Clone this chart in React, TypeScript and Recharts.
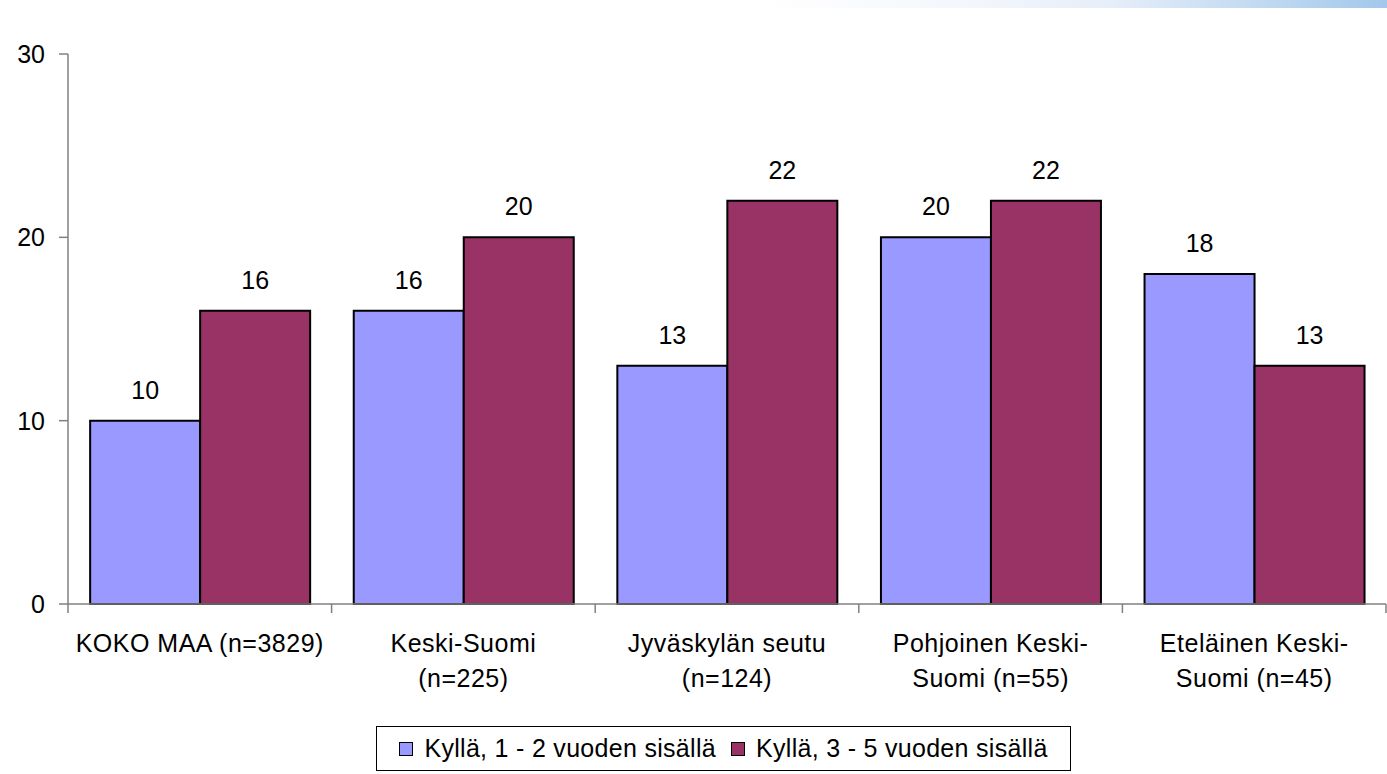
import React from "react";
import { BarChart, Bar, XAxis, YAxis, LabelList, Legend } from "recharts";

// ── Data ──────────────────────────────────────────────────────────────────────

const categories = [
  "KOKO MAA (n=3829)",
  "Keski-Suomi (n=225)",
  "Jyväskylän seutu (n=124)",
  "Pohjoinen Keski-Suomi (n=55)",
  "Eteläinen Keski-Suomi (n=45)",
];

// how each category label wraps under the axis
const categoryLines = [
  ["KOKO MAA (n=3829)"],
  ["Keski-Suomi", "(n=225)"],
  ["Jyväskylän seutu", "(n=124)"],
  ["Pohjoinen Keski-", "Suomi (n=55)"],
  ["Eteläinen Keski-", "Suomi (n=45)"],
];

const seriesNames = ["Kyllä, 1 - 2 vuoden sisällä", "Kyllä, 3 - 5 vuoden sisällä"];
const soon = [10, 16, 13, 20, 18];
const later = [16, 20, 22, 22, 13];
const yTicks = [0, 10, 20, 30];

const colors = ["#9999ff", "#993366"];

const data = categories.map((name, i) => ({ name, soon: soon[i], later: later[i] }));

const FONT = "'Liberation Sans', Arial, sans-serif";
const AXIS = "#808080";

// ── Category tick: label + boundary tick marks ────────────────────────────────

function CategoryTick(props: any) {
  const { x, y, payload, index } = props;
  const half = payload?.offset ?? 0;
  const lines = categoryLines[index] ?? [payload.value];
  return (
    <g>
      <line x1={x - half} x2={x - half} y1={y} y2={y + 9} stroke={AXIS} strokeWidth={1.5} />
      {index === categories.length - 1 && (
        <line x1={x + half} x2={x + half} y1={y} y2={y + 9} stroke={AXIS} strokeWidth={1.5} />
      )}
      <text
        x={x}
        y={y + 48}
        textAnchor="middle"
        fill="#000"
        fontSize={25}
        fontFamily={FONT}
        letterSpacing={0.5}
      >
        {lines.map((l, i) => (
          <tspan key={i} x={x} dy={i === 0 ? 0 : 35}>
            {l}
          </tspan>
        ))}
      </text>
    </g>
  );
}

// ── Legend box ────────────────────────────────────────────────────────────────

function LegendBox() {
  return (
    <div
      style={{
        border: "1.5px solid #000",
        background: "#fff",
        width: 693,
        height: 43,
        display: "flex",
        alignItems: "center",
        justifyContent: "center",
        gap: 15,
        fontFamily: FONT,
        fontSize: 25,
        letterSpacing: 0.3,
        color: "#000",
        boxSizing: "content-box",
        whiteSpace: "nowrap",
      }}
    >
      {seriesNames.map((n, i) => (
        <span key={n} style={{ display: "flex", alignItems: "center", gap: 11 }}>
          <span
            style={{
              width: 12,
              height: 12,
              background: colors[i],
              border: "1.5px solid #000",
              display: "inline-block",
            }}
          />
          {n}
        </span>
      ))}
    </div>
  );
}

export default function App() {
  return (
    <div style={{ position: "absolute", top: 0, left: 0, width: 1387, height: 774, background: "#fff" }}>
      {/* slide header strip */}
      <div
        style={{
          position: "absolute",
          top: 0,
          left: 0,
          width: 1387,
          height: 8,
          background:
            "linear-gradient(to right, #ffffff 0%, #ffffff 55%, #f4f6fc 70%, #e6eef9 80%, #c4dbf1 90%, #a2c8ec 100%)",
        }}
      />
      <BarChart
        width={1387}
        height={774}
        data={data}
        margin={{ top: 54, right: 1, left: 0, bottom: 0 }}
        barCategoryGap="8.4%"
        barGap={0}
      >
        <YAxis
          domain={[0, 30]}
          ticks={yTicks}
          width={68}
          stroke={AXIS}
          strokeWidth={1.5}
          tickSize={9}
          tickMargin={14}
          tick={{ fill: "#000", fontSize: 25, fontFamily: FONT }}
          interval={0}
        />
        <XAxis
          dataKey="name"
          height={170}
          stroke={AXIS}
          strokeWidth={1.5}
          tickLine={false}
          tickSize={0}
          tickMargin={0}
          interval={0}
          tick={<CategoryTick />}
        />
        <Legend
          layout="horizontal"
          verticalAlign="middle"
          align="center"
          content={<LegendBox />}
          wrapperStyle={{ top: 726, left: 376, width: "auto", height: "auto" }}
        />
        <Bar dataKey="soon" name={seriesNames[0]} fill={colors[0]} stroke="#000" strokeWidth={2} isAnimationActive={false}>
          <LabelList dataKey="soon" position="top" offset={22} fill="#000" fontSize={25} fontFamily={FONT} />
        </Bar>
        <Bar dataKey="later" name={seriesNames[1]} fill={colors[1]} stroke="#000" strokeWidth={2} isAnimationActive={false}>
          <LabelList dataKey="later" position="top" offset={22} fill="#000" fontSize={25} fontFamily={FONT} />
        </Bar>
      </BarChart>
    </div>
  );
}
